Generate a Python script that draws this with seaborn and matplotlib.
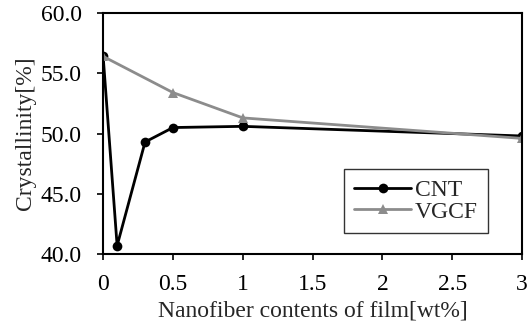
import numpy as np
import pandas as pd
import matplotlib
matplotlib.use('Agg')
import matplotlib.pyplot as plt
import seaborn as sns

# data
cnt_x = [0, 0.1, 0.3, 0.5, 1, 3]
cnt_y = [56.4, 40.7, 49.3, 50.5, 50.6, 49.8]
vgcf_x = [0, 0.5, 1, 3]
vgcf_y = [56.4, 53.4, 51.3, 49.6]

df = pd.concat([
    pd.DataFrame({'x': cnt_x, 'y': cnt_y, 'fiber': 'CNT'}),
    pd.DataFrame({'x': vgcf_x, 'y': vgcf_y, 'fiber': 'VGCF'}),
])

sns.set_style('ticks')
plt.rcParams['font.family'] = ['Liberation Serif', 'DejaVu Serif']

fs = 17
fig, ax = plt.subplots(figsize=(5.29, 3.25), dpi=100)
sns.lineplot(data=df, x='x', y='y', hue='fiber', style='fiber',
             palette={'CNT': 'black', 'VGCF': '#8c8c8c'},
             markers={'CNT': 'o', 'VGCF': '^'}, dashes=False,
             markersize=7, linewidth=2, markeredgewidth=0, ax=ax)

ax.set_xlim(0, 3)
ax.set_ylim(40, 60)
ax.set_xticks([0, 0.5, 1, 1.5, 2, 2.5, 3])
ax.set_xticklabels(['0', '0.5', '1', '1.5', '2', '2.5', '3'])
ax.set_yticks([40, 45, 50, 55, 60])
ax.set_yticklabels(['40.0', '45.0', '50.0', '55.0', '60.0'])
ax.set_xlabel('Nanofiber contents of film[wt%]', fontsize=fs, labelpad=4)
ax.set_ylabel('Crystallinity[%]', fontsize=fs, labelpad=3)
ax.tick_params(direction='out', length=4.5, width=1.2, labelsize=fs, colors='black')
ax.tick_params(axis='y', pad=11)
ax.tick_params(axis='x', pad=10)
for s in ax.spines.values():
    s.set_linewidth(1.5)
    s.set_color('black')

leg = ax.legend(loc='lower right', bbox_to_anchor=(0.919, 0.087), borderaxespad=0,
                fontsize=fs, frameon=True, fancybox=False, edgecolor='black',
                handlelength=2.4, handletextpad=0.15, borderpad=0.45,
                labelspacing=0.0)
leg.get_frame().set_linewidth(1.0)

plt.subplots_adjust(left=0.195, right=0.987, top=0.96, bottom=0.218)
plt.savefig('out.png', dpi=100)
